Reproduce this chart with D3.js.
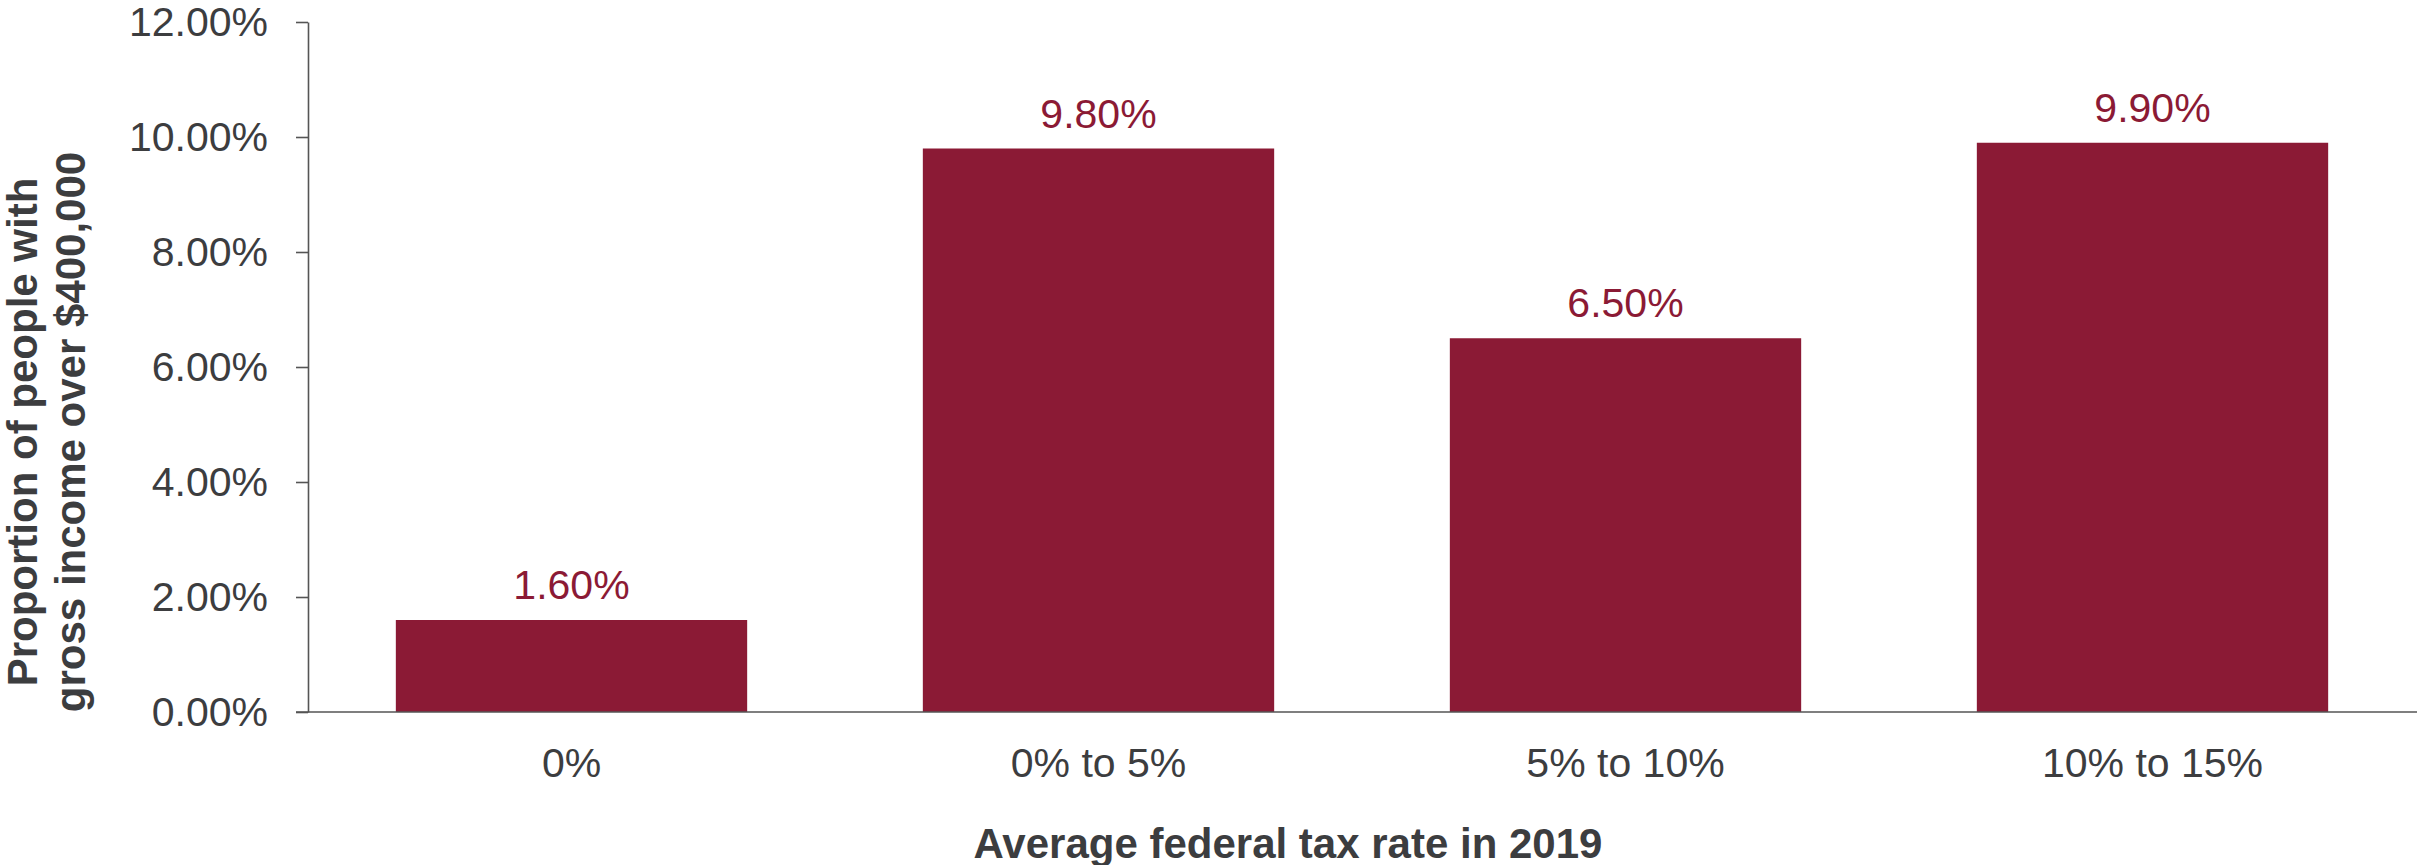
<!DOCTYPE html>
<html>
<head>
<meta charset="utf-8">
<script src="https://cdn.jsdelivr.net/npm/d3@7"></script>
<style>
  html, body { margin: 0; padding: 0; background: #ffffff; }
  svg { display: block; font-family: "Liberation Sans", Arial, sans-serif; }
</style>
</head>
<body>
<svg id="chart" width="2417" height="865"></svg>
<script>
// Share of people with gross income over $400,000, by average federal tax rate
const categories = ["0%", "0% to 5%", "5% to 10%", "10% to 15%"];
const values = [1.6, 9.8, 6.5, 9.9];
const valueLabels = ["1.60%", "9.80%", "6.50%", "9.90%"];
const yTicks = [0, 2, 4, 6, 8, 10, 12];
const yTickLabels = ["0.00%", "2.00%", "4.00%", "6.00%", "8.00%", "10.00%", "12.00%"];
const xTitle = "Average federal tax rate in 2019";
const yTitleLines = ["Proportion of people with", "gross income over $400,000"];

const barColor = "#8b1a35";
const textColor = "#3c3d3f";
const axisColor = "#555555";

const svg = d3.select("#chart");

const plotLeft = 308, plotRight = 2416, plotTop = 22, plotBottom = 712;

const x = d3.scaleBand()
  .domain(categories)
  .range([plotLeft, plotRight])
  .paddingInner(1 / 3)
  .paddingOuter(1 / 6);

const y = d3.scaleLinear()
  .domain([0, 12])
  .range([plotBottom, plotTop]);

// Bars
svg.append("g")
  .selectAll("rect")
  .data(values)
  .join("rect")
  .attr("x", (d, i) => x(categories[i]))
  .attr("y", d => y(d))
  .attr("width", x.bandwidth())
  .attr("height", d => y(0) - y(d))
  .attr("fill", barColor);

// Value labels above each bar
svg.append("g")
  .selectAll("text")
  .data(values)
  .join("text")
  .attr("x", (d, i) => x(categories[i]) + x.bandwidth() / 2)
  .attr("y", d => y(d) - 21)
  .attr("text-anchor", "middle")
  .attr("font-size", 41)
  .attr("fill", barColor)
  .text((d, i) => valueLabels[i]);

// Y axis
const yAxis = d3.axisLeft(y)
  .tickValues(yTicks)
  .tickFormat((d, i) => yTickLabels[i])
  .tickSize(12)
  .tickSizeOuter(0)
  .tickPadding(28);

const gy = svg.append("g")
  .attr("transform", `translate(${plotLeft},0)`)
  .call(yAxis);
gy.select(".domain").attr("stroke", axisColor).attr("stroke-width", 1.6);
gy.selectAll(".tick line").attr("stroke", axisColor).attr("stroke-width", 1.6);
gy.selectAll(".tick text")
  .attr("font-size", 41)
  .attr("font-family", "Liberation Sans, Arial, sans-serif")
  .attr("fill", textColor);

// X axis: category labels without tick marks
const xAxis = d3.axisBottom(x).tickSize(0).tickPadding(36);
const gx = svg.append("g")
  .attr("transform", `translate(0,${plotBottom})`)
  .call(xAxis);
gx.select(".domain").remove();
gx.selectAll(".tick text")
  .attr("font-size", 41)
  .attr("font-family", "Liberation Sans, Arial, sans-serif")
  .attr("fill", textColor);

// Baseline extends left to the tick ends and across to the right edge
svg.append("line")
  .attr("x1", plotLeft - 12)
  .attr("x2", 2417)
  .attr("y1", y(0))
  .attr("y2", y(0))
  .attr("stroke", axisColor)
  .attr("stroke-width", 1.6);

// Axis titles
svg.append("text")
  .attr("x", 1288)
  .attr("y", 858)
  .attr("text-anchor", "middle")
  .attr("font-size", 42)
  .attr("font-weight", "bold")
  .attr("fill", textColor)
  .text(xTitle);

const yTitle = svg.append("text")
  .attr("transform", "translate(37,432) rotate(-90)")
  .attr("text-anchor", "middle")
  .attr("font-size", 42)
  .attr("font-weight", "bold")
  .attr("fill", textColor);
yTitleLines.forEach((line, i) => {
  yTitle.append("tspan")
    .attr("x", 0)
    .attr("y", i * 48)
    .text(line);
});
</script>
</body>
</html>
